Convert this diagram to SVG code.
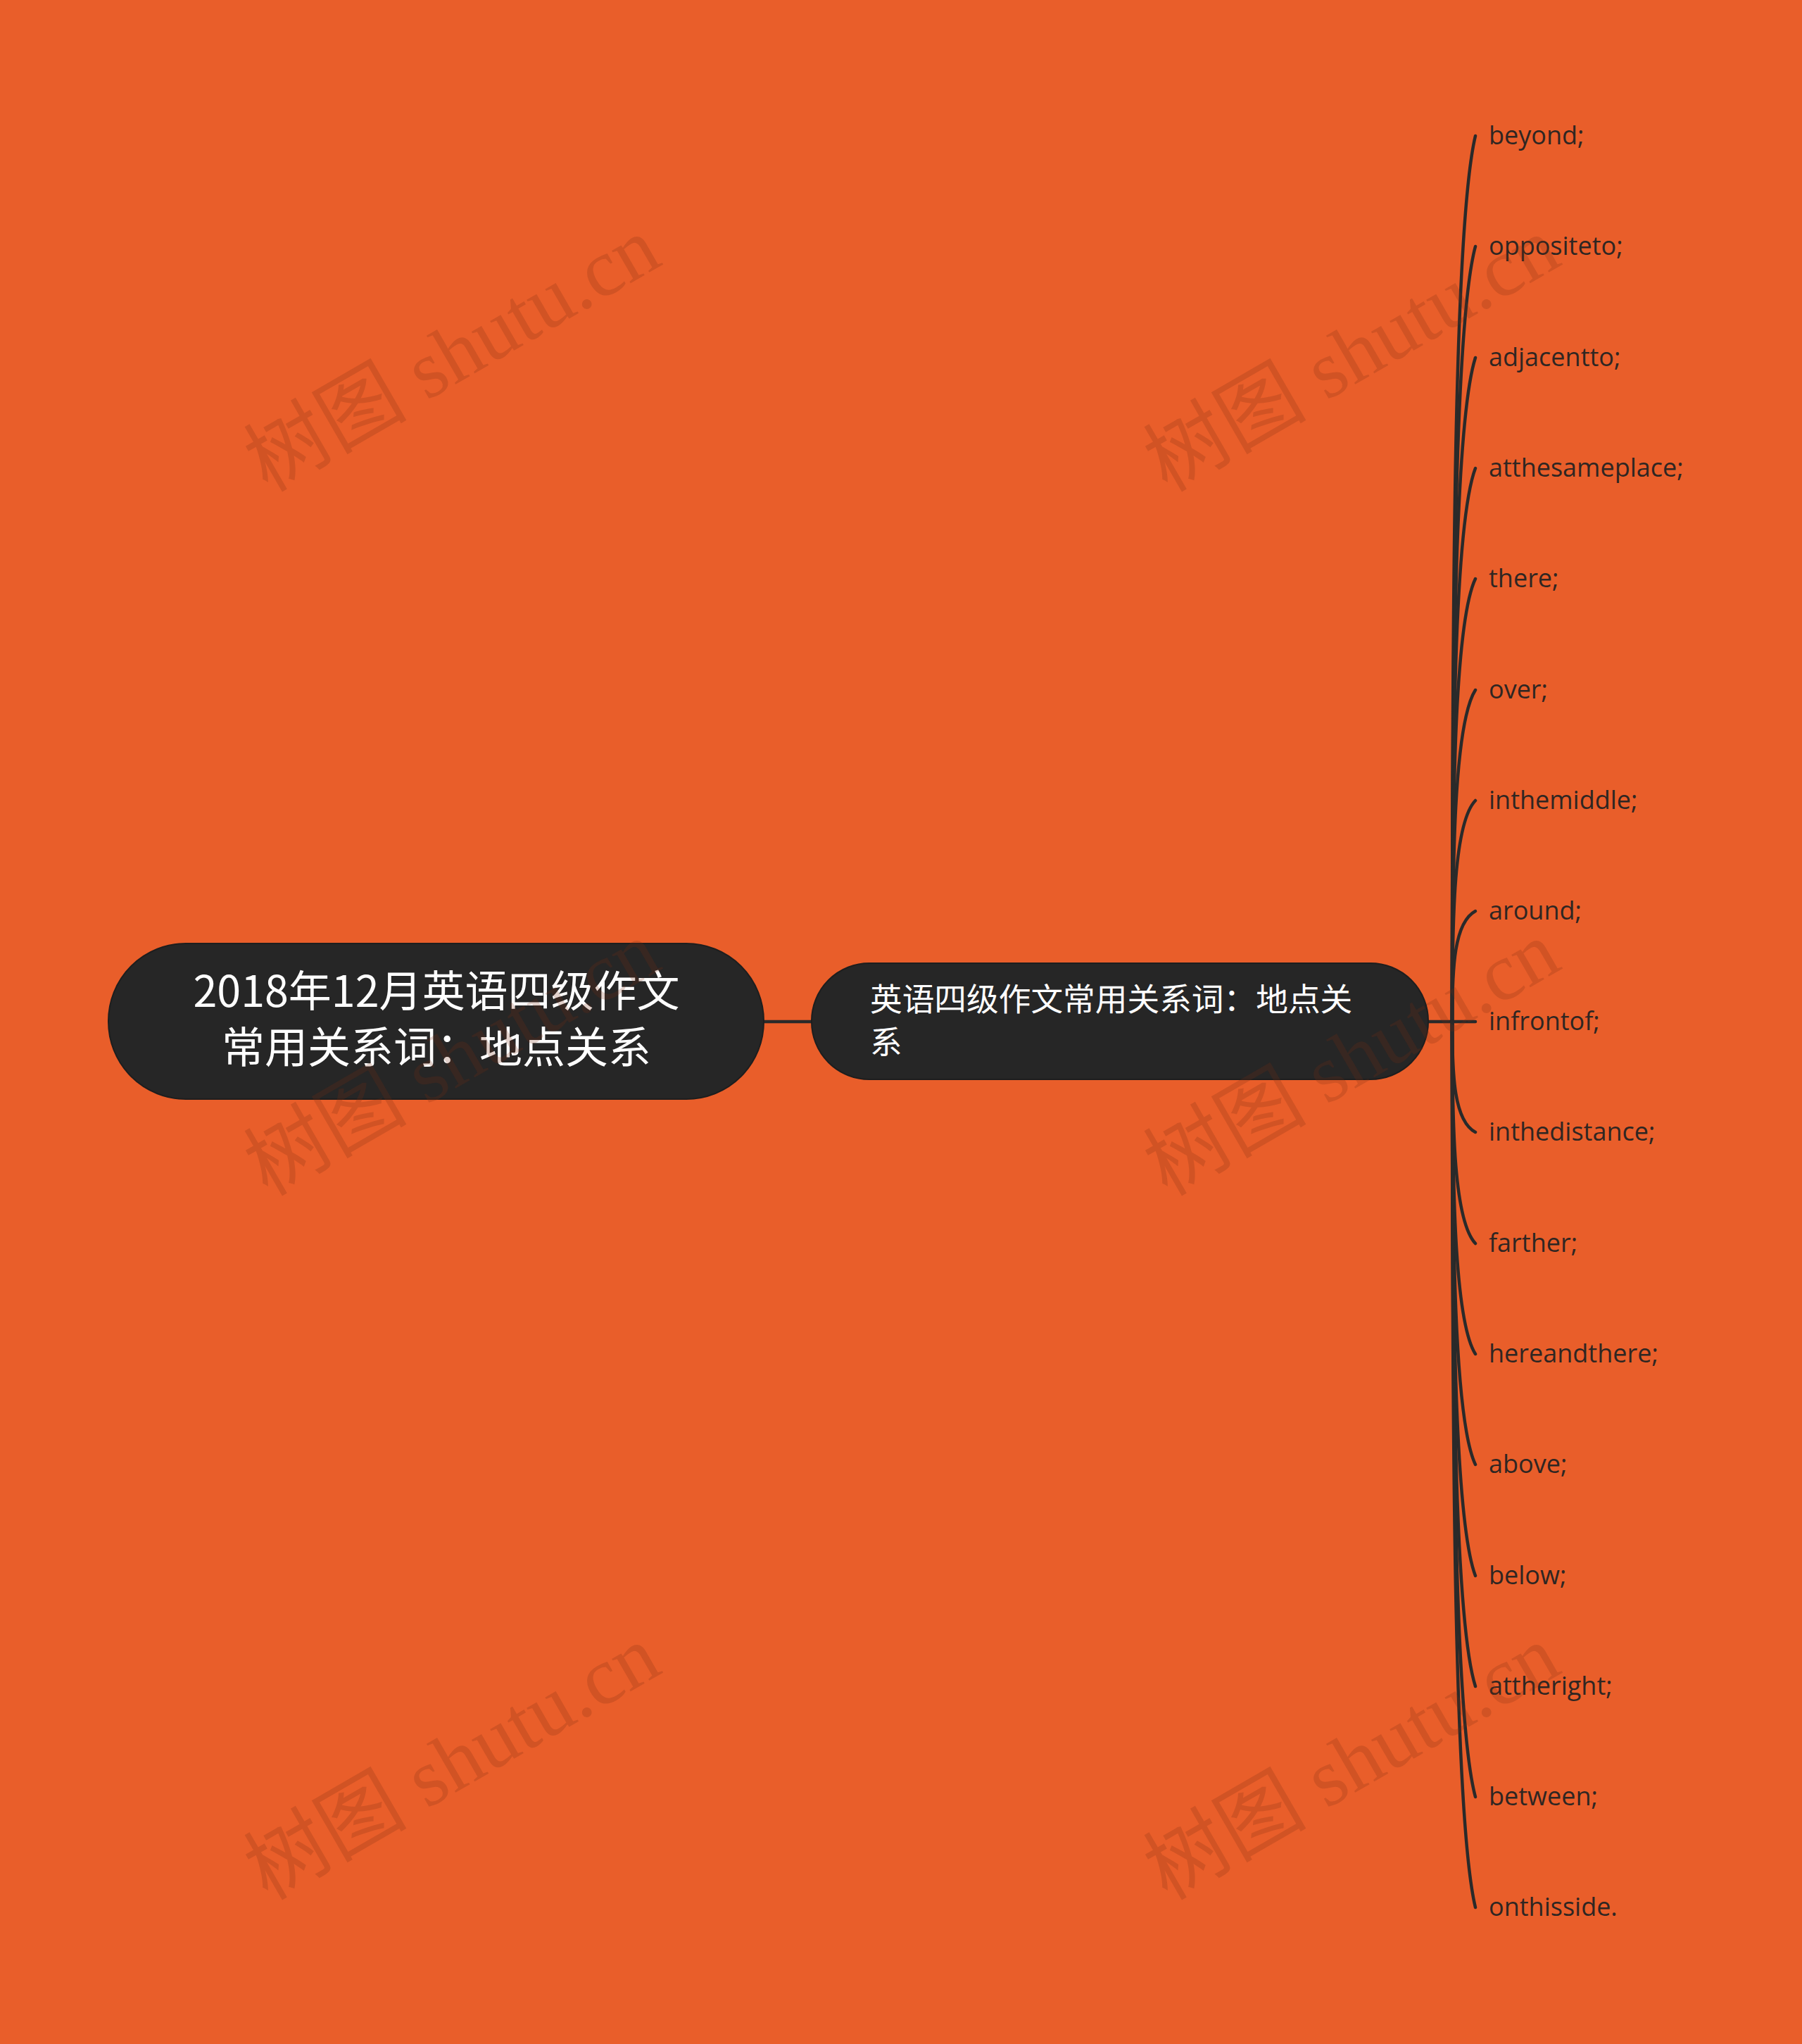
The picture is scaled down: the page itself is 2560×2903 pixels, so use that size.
<svg xmlns="http://www.w3.org/2000/svg" width="2560" height="2903" viewBox="0 0 2560 2903">
<style>
.conn{fill:none;stroke:#2a2a2a;stroke-width:4.5;stroke-linecap:round}
.node{fill:#262626;stroke:#1e1e1e;stroke-width:2}
.rt{font-family:"Noto Sans CJK SC","Noto Sans",sans-serif;fill:#ffffff;font-size:61px;text-anchor:middle}
.st{font-family:"Noto Sans CJK SC","Noto Sans",sans-serif;fill:#ffffff;font-size:45.7px}
.lf{font-family:"Open Sans","Noto Sans",sans-serif;fill:#2f2622;font-size:36px}
.wm{font-family:"Liberation Serif","Noto Sans CJK SC",serif;fill:#7a2e12;fill-opacity:0.22;font-size:116px}
</style>
<rect width="2560" height="2903" fill="#e95e2a"/>
<g id="connectors">
<line class="conn" x1="1085" y1="1451" x2="1153" y2="1451"/>
<line class="conn" x1="2029" y1="1451" x2="2096" y2="1451"/>
<path class="conn" d="M2063 1451 C2063 822,2066 319,2096 193"/>
<path class="conn" d="M2063 1451 C2063 901,2066 461,2096 350"/>
<path class="conn" d="M2063 1451 C2063 979,2066 602,2096 508"/>
<path class="conn" d="M2063 1451 C2063 1058,2066 744,2096 665"/>
<path class="conn" d="M2063 1451 C2063 1137,2066 885,2096 822"/>
<path class="conn" d="M2063 1451 C2063 1215,2066 1027,2096 980"/>
<path class="conn" d="M2063 1451 C2063 1294,2066 1168,2096 1137"/>
<path class="conn" d="M2063 1451 C2063 1373,2066 1310,2096 1294"/>
<path class="conn" d="M2063 1451 C2063 1530,2066 1592,2096 1608"/>
<path class="conn" d="M2063 1451 C2063 1609,2066 1734,2096 1766"/>
<path class="conn" d="M2063 1451 C2063 1687,2066 1876,2096 1923"/>
<path class="conn" d="M2063 1451 C2063 1766,2066 2017,2096 2080"/>
<path class="conn" d="M2063 1451 C2063 1845,2066 2159,2096 2238"/>
<path class="conn" d="M2063 1451 C2063 1923,2066 2301,2096 2395"/>
<path class="conn" d="M2063 1451 C2063 2002,2066 2442,2096 2552"/>
<path class="conn" d="M2063 1451 C2063 2081,2066 2584,2096 2709"/>
</g>
<g id="root">
<rect class="node" x="154" y="1340" width="931" height="221" rx="110"/>
<text class="rt" x="620" y="1430">2018年12月英语四级作文</text>
<text class="rt" x="620" y="1510">常用关系词：地点关系</text>
</g>
<g id="sub">
<rect class="node" x="1153" y="1368" width="876" height="165" rx="82"/>
<text class="st" x="1236" y="1436">英语四级作文常用关系词：地点关</text>
<text class="st" x="1236" y="1497">系</text>
</g>
<g id="leaves">
<text class="lf" x="2115" y="205">beyond;</text>
<text class="lf" x="2115" y="362">oppositeto;</text>
<text class="lf" x="2115" y="520">adjacentto;</text>
<text class="lf" x="2115" y="677">atthesameplace;</text>
<text class="lf" x="2115" y="834">there;</text>
<text class="lf" x="2115" y="992">over;</text>
<text class="lf" x="2115" y="1149">inthemiddle;</text>
<text class="lf" x="2115" y="1306">around;</text>
<text class="lf" x="2115" y="1463">infrontof;</text>
<text class="lf" x="2115" y="1620">inthedistance;</text>
<text class="lf" x="2115" y="1778">farther;</text>
<text class="lf" x="2115" y="1935">hereandthere;</text>
<text class="lf" x="2115" y="2092">above;</text>
<text class="lf" x="2115" y="2250">below;</text>
<text class="lf" x="2115" y="2407">attheright;</text>
<text class="lf" x="2115" y="2564">between;</text>
<text class="lf" x="2115" y="2721">onthisside.</text>
</g>
<g id="watermarks">
<text class="wm" transform="translate(380,700) rotate(-30)">树图 shutu.cn</text>
<text class="wm" transform="translate(1658,700) rotate(-30)">树图 shutu.cn</text>
<text class="wm" transform="translate(380,1700) rotate(-30)">树图 shutu.cn</text>
<text class="wm" transform="translate(1658,1700) rotate(-30)">树图 shutu.cn</text>
<text class="wm" transform="translate(380,2700) rotate(-30)">树图 shutu.cn</text>
<text class="wm" transform="translate(1658,2700) rotate(-30)">树图 shutu.cn</text>
</g>
</svg>
